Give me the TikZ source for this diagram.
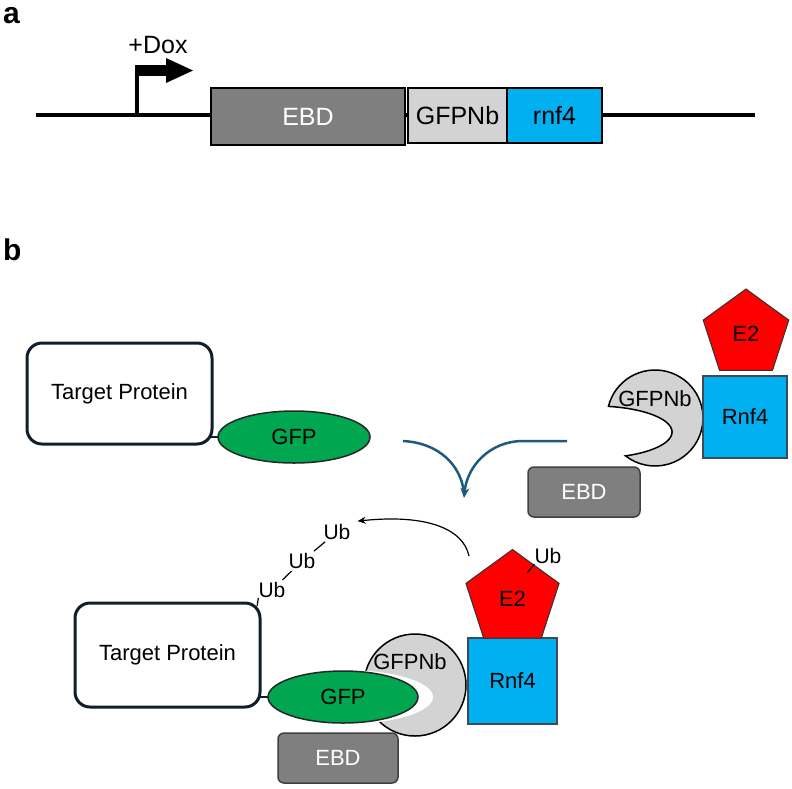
\documentclass[tikz,border=0pt]{standalone}
\usepackage{fontspec}
\setmainfont{Liberation Sans}
\usetikzlibrary{shapes.geometric,arrows.meta,calc}
\definecolor{ebdc}{RGB}{127,127,127}
\definecolor{ebdline}{RGB}{64,64,64}
\definecolor{nbc}{RGB}{211,211,211}
\definecolor{rnfc}{RGB}{0,176,240}
\definecolor{gfpc}{RGB}{0,166,80}
\definecolor{navyc}{RGB}{14,30,45}
\definecolor{flowc}{RGB}{31,90,124}
\definecolor{e2c}{RGB}{255,0,0}
\begin{document}
\begin{tikzpicture}[x=1pt,y=1pt,yscale=-1,
  txt/.style={font=\fontsize{22}{26}\selectfont, inner sep=0pt},
  ubtxt/.style={font=\fontsize{21}{24}\selectfont, inner sep=0pt},
  atxt/.style={font=\fontsize{25}{29}\selectfont},
  lbltxt/.style={anchor=base west, inner sep=0pt, font=\fontsize{30}{32}\selectfont\bfseries},
  abox/.style={rectangle, draw=black, line width=1.2pt, inner sep=0pt, atxt},
  tbox/.style={rectangle, rounded corners=15pt, draw=navyc, line width=3pt, fill=white, minimum width=185pt, txt},
  gfpnode/.style={ellipse, fill=gfpc, draw=black!85, line width=1.5pt, txt},
  ebdbox/.style={rectangle, rounded corners=6pt, fill=ebdc, draw=ebdline, line width=1.5pt, text=white, txt},
  rnfbox/.style={rectangle, fill=rnfc, draw=navyc!80, line width=1.2pt, txt},
  e2node/.style={regular polygon, regular polygon sides=5, fill=e2c, draw=black!80, line width=1pt, txt},
  nbfill/.style={fill=nbc, draw=black, line width=1.5pt},
  flow/.style={draw=flowc, line width=2.5pt},
  link/.style={draw=navyc, line width=2.5pt},
  ubline/.style={draw=black, line width=1.2pt},
]
\useasboundingbox (0,0) rectangle (792,788);

% ---------- panel a ----------
\node[lbltxt] (la) at (3,23) {a};
\coordinate (dnaL) at (36,115);
\coordinate (dnaR) at (755,115);
\draw[line width=4.5pt] (dnaL) -- (dnaR);
\coordinate (prom) at (137,115);
\draw[line width=4.5pt] (prom) -- (137,70.5) -- (168,70.5);
\fill (134.75,65) rectangle (168,76);
\fill (166,58) -- (193,70.5) -- (166,83) -- cycle;
\node[atxt, inner sep=0pt] (dox) at (158,45) {+Dox};
\node[abox, fill=ebdc, text=white, minimum width=194pt, minimum height=57pt] (ebdA) at (308,116.5) {EBD};
\node[abox, fill=nbc, minimum width=99pt, minimum height=55pt] (nbA) at (457.5,115.5) {GFPNb};
\node[abox, fill=rnfc, minimum width=95pt, minimum height=55pt] (rnfA) at (554.5,115.5) {rnf4};

% ---------- panel b ----------
\node[lbltxt] (lb) at (3,260) {b};

% top state
\node[tbox, minimum height=101pt] (tp1) at (119.5,393.5) {Target Protein};
\draw[link] ($(tp1.east |- 0,437)+(-3,0)$) -- (218,437);
\node[gfpnode, minimum width=152pt, minimum height=52pt] (gfp1) at (294,437) {GFP};

\coordinate (nbcen1) at (655,418);
\draw[nbfill] (nbcen1) ++(194:48) arc[start angle=194, end angle=487.9, radius=48]
   arc[start angle=66.7, end angle=-80, x radius=77, y radius=26] -- cycle;
\node[txt] (nbt1) at (655,399) {GFPNb};
\node[rnfbox, minimum width=84pt, minimum height=82pt] (rnf1) at (745,417) {Rnf4};
\node[e2node, minimum size=90pt] (e21) at (746,334) {E2};
\node[ebdbox, minimum width=112pt, minimum height=50pt] (ebd1) at (584,492) {EBD};

% transition arrow
\coordinate (fL) at (403,441);
\coordinate (fR) at (567,441);
\coordinate (fR2) at (523,441);
\coordinate (fM) at (464,498);
\draw[flow] (fL) .. controls (440,443) and (460,466) .. (463.6,490);
\draw[flow, -{Stealth[length=10pt,width=9pt]}] (fR) -- (fR2) .. controls (490,441) and (467,466) .. (fM);

% bottom state
\node[tbox, minimum height=104pt] (tp2) at (167.5,655) {Target Protein};
\node[ubtxt] (ub3) at (272,590) {Ub};
\node[ubtxt] (ub2) at (302,561) {Ub};
\node[ubtxt] (ub1) at (337,532) {Ub};
\draw[ubline] ($(tp2.north east)+(-4.4,4.4)$) -- (ub3.south west);
\draw[ubline, shorten <=3pt, shorten >=3pt] (ub3) -- (ub2);
\draw[ubline, shorten <=3pt, shorten >=3pt] (ub2) -- (ub1);

\coordinate (nbcen2) at (415,685);
\fill[nbc] (nbcen2) circle[radius=51];
\draw[black, line width=1.5pt] (nbcen2) circle[radius=51];
\begin{scope}
  \clip (nbcen2) circle[radius=53];
  \fill[white] (345,697) ellipse[x radius=88, y radius=27];
\end{scope}
\draw[link] ($(tp2.east |- 0,697)+(-3,0)$) -- (268,697);
\node[gfpnode, minimum width=150pt, minimum height=52pt] (gfp2) at (343,697) {GFP};
\node[txt] (nbt2) at (410,662) {GFPNb};

\node[rnfbox, minimum width=89pt, minimum height=86pt] (rnf2) at (512.5,681) {Rnf4};
\node[e2node, minimum size=98pt] (e22) at (512.5,598.5) {E2};
\node[ubtxt] (ub0) at (548,556) {Ub};
\draw[ubline] ($(e22.center)+(14.5,-25.5)$) -- (ub0.south west);
\node[ebdbox, minimum width=120pt, minimum height=50pt] (ebd2) at (338,758) {EBD};

\coordinate (cs) at (469,556);
\draw[ubline, -{Stealth[length=8pt,width=7pt]}] (cs) .. controls (463,528) and (425,514) .. ($(ub1.north east)+(7,-3)$);
\end{tikzpicture}
\end{document}
